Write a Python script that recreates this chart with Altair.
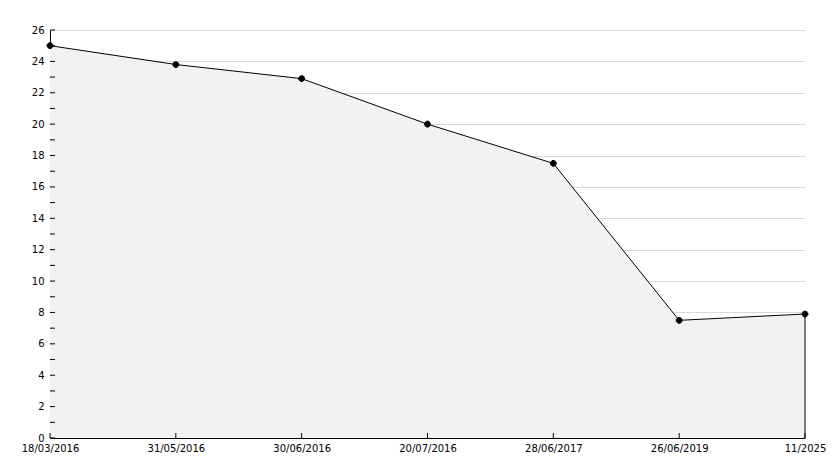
import altair as alt
import pandas as pd

dates = ["18/03/2016", "31/05/2016", "30/06/2016", "20/07/2016",
         "28/06/2017", "26/06/2019", "11/2025"]
values = [25.0, 23.8, 22.9, 20.0, 17.5, 7.5, 7.9]
y_label_values = [0, 2, 4, 6, 8, 10, 12, 14, 16, 18, 20, 22, 24, 26]
y_tick_values = list(range(0, 27))

W, H = 755, 408

df = pd.DataFrame({"date": dates, "value": values})
ticks_df = pd.DataFrame({"value": y_tick_values})
last_df = df.tail(1)

x_axis = alt.Axis(labelAngle=0, tickSize=0, grid=False, domainColor="black",
                  labelPadding=5, labelOverlap=False, labelBound=False,
                  labelFlush=False, title=None)
y_axis = alt.Axis(values=y_label_values, tickSize=0, grid=True,
                  gridColor="#d9d9d9", domainColor="black", labelOverlap=False,
                  labelPadding=6, title=None)
x_scale = alt.Scale(type="point", padding=0)
y_scale = alt.Scale(domain=[0, 26], nice=False, zero=True)


def X():
    return alt.X("date:N", sort=dates, scale=x_scale, axis=x_axis)


def Y():
    return alt.Y("value:Q", scale=y_scale, axis=y_axis)


area = alt.Chart(df).mark_area(color="#f2f2f2", opacity=1).encode(x=X(), y=Y())
line = alt.Chart(df).mark_line(color="black", strokeWidth=1).encode(x=X(), y=Y())
right_edge = alt.Chart(last_df).mark_rule(color="black", strokeWidth=1).encode(
    x=X(), y=Y(), y2=alt.value(H))
pts_sq = alt.Chart(df).mark_point(shape="square", filled=True, size=25, color="black", opacity=1).encode(
    x=X(), y=Y())
pts_cr = alt.Chart(df).mark_point(shape="cross", filled=True, size=45, color="black", opacity=1).encode(
    x=X(), y=Y())
y_ticks = alt.Chart(ticks_df).mark_rule(color="black", strokeWidth=1).encode(
    y=Y(), x=alt.value(0), x2=alt.value(5))
x_ticks = alt.Chart(df).mark_rule(color="black", strokeWidth=1).encode(
    x=X(), y=alt.value(H), y2=alt.value(H - 5))

chart = alt.layer(area, line, right_edge, y_ticks, x_ticks, pts_sq, pts_cr).properties(
    width=W, height=H,
    padding={"left": 42, "top": 22, "right": 21, "bottom": 22},
    autosize=alt.AutoSizeParams(type="none"),
    background="white",
).configure_view(strokeWidth=0).configure_axis(
    labelFont="DejaVu Sans", labelFontSize=10, labelColor="black"
)

chart.save("out.html", embed_options={"renderer": "svg", "actions": False})
